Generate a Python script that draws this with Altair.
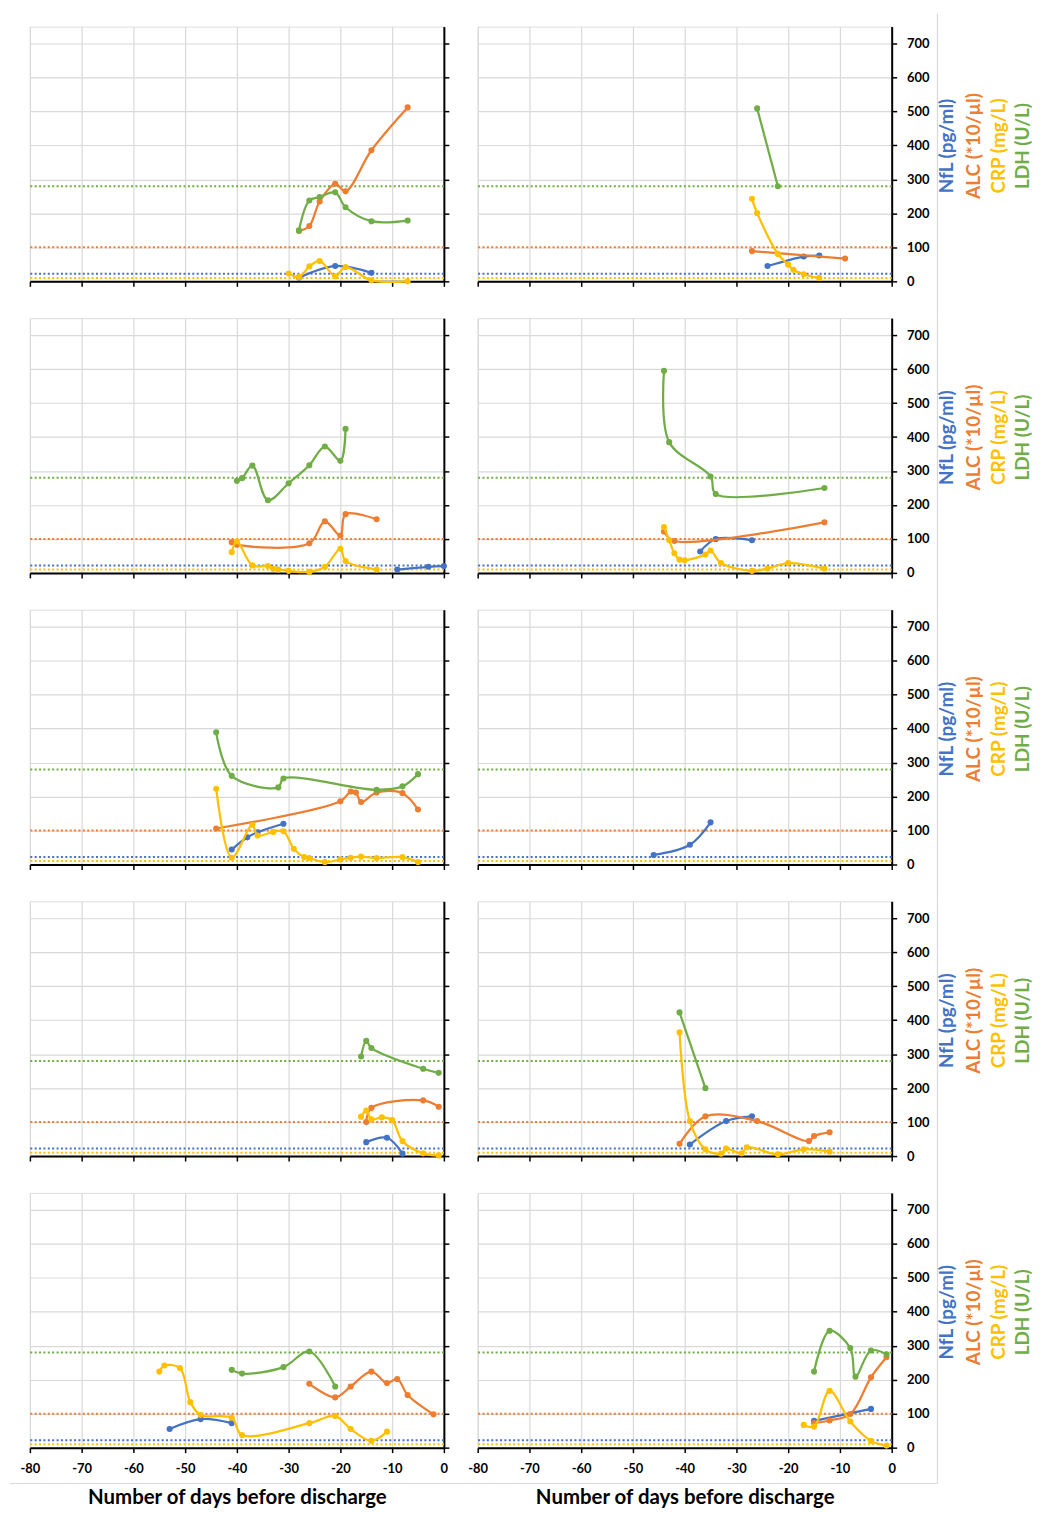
import altair as alt
import pandas as pd

# ---------------- data: (days before discharge, value) ----------------
p1_nfl = [(-28, 11), (-21, 45), (-14, 25)]
p1_alc = [(-28, 148), (-26, 163), (-24, 235), (-21, 287), (-19, 265), (-14, 386), (-7, 512)]
p1_crp = [(-30, 23), (-28, 13), (-26, 44), (-24, 60), (-21, 15), (-19, 42), (-14, 3), (-7, 0)]
p1_ldh = [(-28, 150), (-26, 238), (-24, 248), (-21, 262), (-19, 218), (-14, 177), (-7, 179)]

p2_nfl = [(-24, 45), (-17, 73), (-14, 76)]
p2_alc = [(-27, 89), (-9, 67)]
p2_crp = [(-27, 243), (-26, 201), (-22, 81), (-20, 49), (-19, 34), (-17, 21), (-14, 10)]
p2_ldh = [(-26, 509), (-22, 280)]

p3_nfl = [(-9, 10), (-3, 18), (0, 20)]
p3_alc = [(-41, 90), (-40, 83), (-26, 87), (-23, 152), (-20, 110), (-19, 173), (-13, 158)]
p3_crp = [(-41, 61), (-40, 93), (-37, 22), (-34, 20), (-33, 12), (-32, 10), (-30, 6), (-26, 3),
          (-23, 18), (-20, 71), (-19, 35), (-13, 10)]
p3_ldh = [(-40, 271), (-39, 279), (-37, 316), (-34, 214), (-30, 264), (-26, 317), (-23, 372),
          (-20, 330), (-19, 424)]

p4_nfl = [(-37, 63), (-34, 100), (-27, 96)]
p4_alc = [(-44, 122), (-42, 94), (-13, 149)]
p4_crp = [(-44, 135), (-43, 96), (-42, 58), (-41, 39), (-40, 37), (-36, 54), (-35, 66), (-33, 29),
          (-27, 6), (-24, 13), (-20, 29), (-13, 13)]
p4_ldh = [(-44, 595), (-43, 385), (-35, 284), (-34, 232), (-13, 250)]

p5_nfl = [(-41, 44), (-38, 80), (-36, 95), (-31, 120)]
p5_alc = [(-44, 106), (-20, 186), (-18, 215), (-17, 212), (-16, 184), (-13, 212), (-8, 210), (-5, 162)]
p5_crp = [(-44, 223), (-41, 20), (-37, 117), (-36, 85), (-33, 96), (-31, 98), (-29, 46), (-27, 22),
          (-26, 19), (-23, 7), (-20, 15), (-18, 20), (-16, 23), (-13, 19), (-8, 22), (-5, 7)]
p5_ldh = [(-44, 389), (-41, 261), (-32, 227), (-31, 253), (-13, 220), (-8, 230), (-5, 266)]

p6_nfl = [(-46, 28), (-39, 58), (-35, 124)]
p6_alc = []
p6_crp = []
p6_ldh = []

p7_nfl = [(-15, 41), (-11, 54), (-8, 7)]
p7_alc = [(-15, 100), (-14, 142), (-4, 164), (-1, 145)]
p7_crp = [(-16, 116), (-15, 134), (-14, 108), (-12, 114), (-10, 106), (-8, 44), (-4, 8), (-1, 2)]
p7_ldh = [(-16, 293), (-15, 339), (-14, 318), (-4, 257), (-1, 245)]

p8_nfl = [(-39, 34), (-32, 103), (-27, 117)]
p8_alc = [(-41, 36), (-36, 117), (-26, 103), (-16, 44), (-15, 59), (-12, 70)]
p8_crp = [(-41, 364), (-39, 103), (-36, 20), (-33, 7), (-32, 22), (-29, 8), (-28, 26), (-22, 5),
          (-17, 20), (-12, 13)]
p8_ldh = [(-41, 423), (-36, 200)]

p9_nfl = [(-53, 55), (-47, 84), (-41, 72)]
p9_alc = [(-26, 188), (-21, 148), (-18, 180), (-14, 224), (-11, 190), (-9, 202), (-7, 155), (-2, 98)]
p9_crp = [(-55, 224), (-54, 242), (-51, 234), (-49, 134), (-47, 96), (-41, 88), (-39, 37), (-26, 72),
          (-21, 93), (-18, 55), (-14, 20), (-11, 47)]
p9_ldh = [(-41, 229), (-39, 218), (-31, 237), (-26, 283), (-21, 180)]

p10_nfl = [(-15, 79), (-4, 114)]
p10_alc = [(-15, 72), (-12, 80), (-8, 99), (-4, 207), (-1, 266)]
p10_crp = [(-17, 67), (-15, 62), (-12, 167), (-8, 77), (-4, 20), (-1, 6)]
p10_ldh = [(-15, 224), (-12, 344), (-8, 293), (-7, 209), (-4, 286), (-1, 275)]

SERIES = ["NfL", "ALC", "CRP", "LDH"]
TITLES = ["NfL (pg/ml)", "ALC (*10/µl)", "CRP (mg/L)", "LDH (U/L)"]
REF_LEVELS = [22, 100, 10, 280]
X_TICKS = list(range(-80, 1, 10))
Y_TICKS = list(range(0, 701, 100))
X_TITLE = "Number of days before discharge"

PANELS = [
    (p1_nfl, p1_alc, p1_crp, p1_ldh), (p2_nfl, p2_alc, p2_crp, p2_ldh),
    (p3_nfl, p3_alc, p3_crp, p3_ldh), (p4_nfl, p4_alc, p4_crp, p4_ldh),
    (p5_nfl, p5_alc, p5_crp, p5_ldh), (p6_nfl, p6_alc, p6_crp, p6_ldh),
    (p7_nfl, p7_alc, p7_crp, p7_ldh), (p8_nfl, p8_alc, p8_crp, p8_ldh),
    (p9_nfl, p9_alc, p9_crp, p9_ldh), (p10_nfl, p10_alc, p10_crp, p10_ldh),
]

# ---------------- styling ----------------
COLORS = ["#4472C4", "#ED7D31", "#FFC000", "#70AD47"]
W, H = 416, 256
ROW_GAP, COL_GAP = 37, 34
FONT = "Lato"
TITLE_X = [56, 83, 108, 132]
TITLE_Y = 120
FRAME_COLOR = "#d9d9d9"
FRAME_RIGHT = 46
FRAME_TOP = -13
FRAME_BOTTOM = 36
FRAME_LEFT = -20

color_scale = alt.Scale(domain=SERIES, range=COLORS)
x_scale = alt.Scale(domain=[-80, 0], nice=False, zero=False)
y_scale = alt.Scale(domain=[0, 750], nice=False)

axis_common = dict(
    grid=True, gridColor="#d9d9d9", gridWidth=1.2,
    domainColor="black", domainWidth=2,
    tickColor="black", tickWidth=1.5, tickSize=5,
    labelFont=FONT, labelFontWeight="bold", labelFontSize=13, labelColor="black",
    labelFlush=False, labelExpr="'' + datum.value",
)

frame_df = pd.DataFrame({"k": [0]})


def frame_rule(x1, x2, y1, y2):
    return alt.Chart(frame_df).mark_rule(color=FRAME_COLOR, strokeWidth=1.2).encode(
        x=alt.value(x1), x2=alt.value(x2), y=alt.value(y1), y2=alt.value(y2)
    )


def make_panel(idx, series_data):
    row, col = divmod(idx, 2)
    bottom = row == 4
    right = col == 1
    if bottom:
        x_axis = alt.Axis(values=X_TICKS, labels=True, labelPadding=10, title=X_TITLE,
                          titleFont=FONT, titleFontWeight="bold", titleFontSize=20.5,
                          titleColor="black", titlePadding=12, **axis_common)
    else:
        x_axis = alt.Axis(values=X_TICKS, labels=False, title=None, **axis_common)
    y_axis = alt.Axis(values=Y_TICKS, orient="right", labels=right, labelPadding=10,
                      title=None, **axis_common)

    layers = []
    # light grey border of the original figure
    if right:
        top = FRAME_TOP if row == 0 else 0
        end = H + FRAME_BOTTOM if bottom else H + ROW_GAP
        layers.append(frame_rule(W + FRAME_RIGHT, W + FRAME_RIGHT, top, end))
    if bottom:
        x1 = FRAME_LEFT if not right else 0
        x2 = W + COL_GAP if not right else W + FRAME_RIGHT
        layers.append(frame_rule(x1, x2, H + FRAME_BOTTOM, H + FRAME_BOTTOM))

    refs = alt.Chart(pd.DataFrame({"s": SERIES, "v": REF_LEVELS})).mark_rule(
        strokeDash=[2, 2.4], strokeWidth=2
    ).encode(
        y=alt.Y("v:Q", scale=y_scale, axis=y_axis),
        color=alt.Color("s:N", scale=color_scale, legend=None),
    )
    layers.append(refs)
    for name, pts in zip(SERIES, series_data):
        if not pts:
            continue
        df = pd.DataFrame({"day": [p[0] for p in pts], "value": [p[1] for p in pts], "s": name})
        layers.append(
            alt.Chart(df).mark_line(
                interpolate="catmull-rom", strokeWidth=2.25,
                point=alt.OverlayMarkDef(filled=True, size=38, opacity=1),
            ).encode(
                x=alt.X("day:Q", scale=x_scale, axis=x_axis),
                y=alt.Y("value:Q", scale=y_scale, axis=y_axis),
                color=alt.Color("s:N", scale=color_scale, legend=None),
            )
        )
    if right:
        for t, c, dx in zip(TITLES, COLORS, TITLE_X):
            layers.append(
                alt.Chart(pd.DataFrame({"t": [t]})).mark_text(
                    angle=270, font=FONT, fontWeight="bold", fontSize=19, color=c,
                    align="center", baseline="middle",
                ).encode(x=alt.value(W + dx), y=alt.value(TITLE_Y), text="t:N")
            )
    return alt.layer(*layers).properties(width=W, height=H)


charts = [make_panel(i, d) for i, d in enumerate(PANELS)]

chart = alt.concat(*charts, columns=2, spacing={"row": ROW_GAP, "column": COL_GAP}).properties(
    bounds="flush",
    padding={"left": 0, "top": 0, "right": 0, "bottom": 0},
).configure_view(strokeWidth=0).configure(font=FONT)

chart.save("out.html", embed_options={"renderer": "svg", "actions": False})
